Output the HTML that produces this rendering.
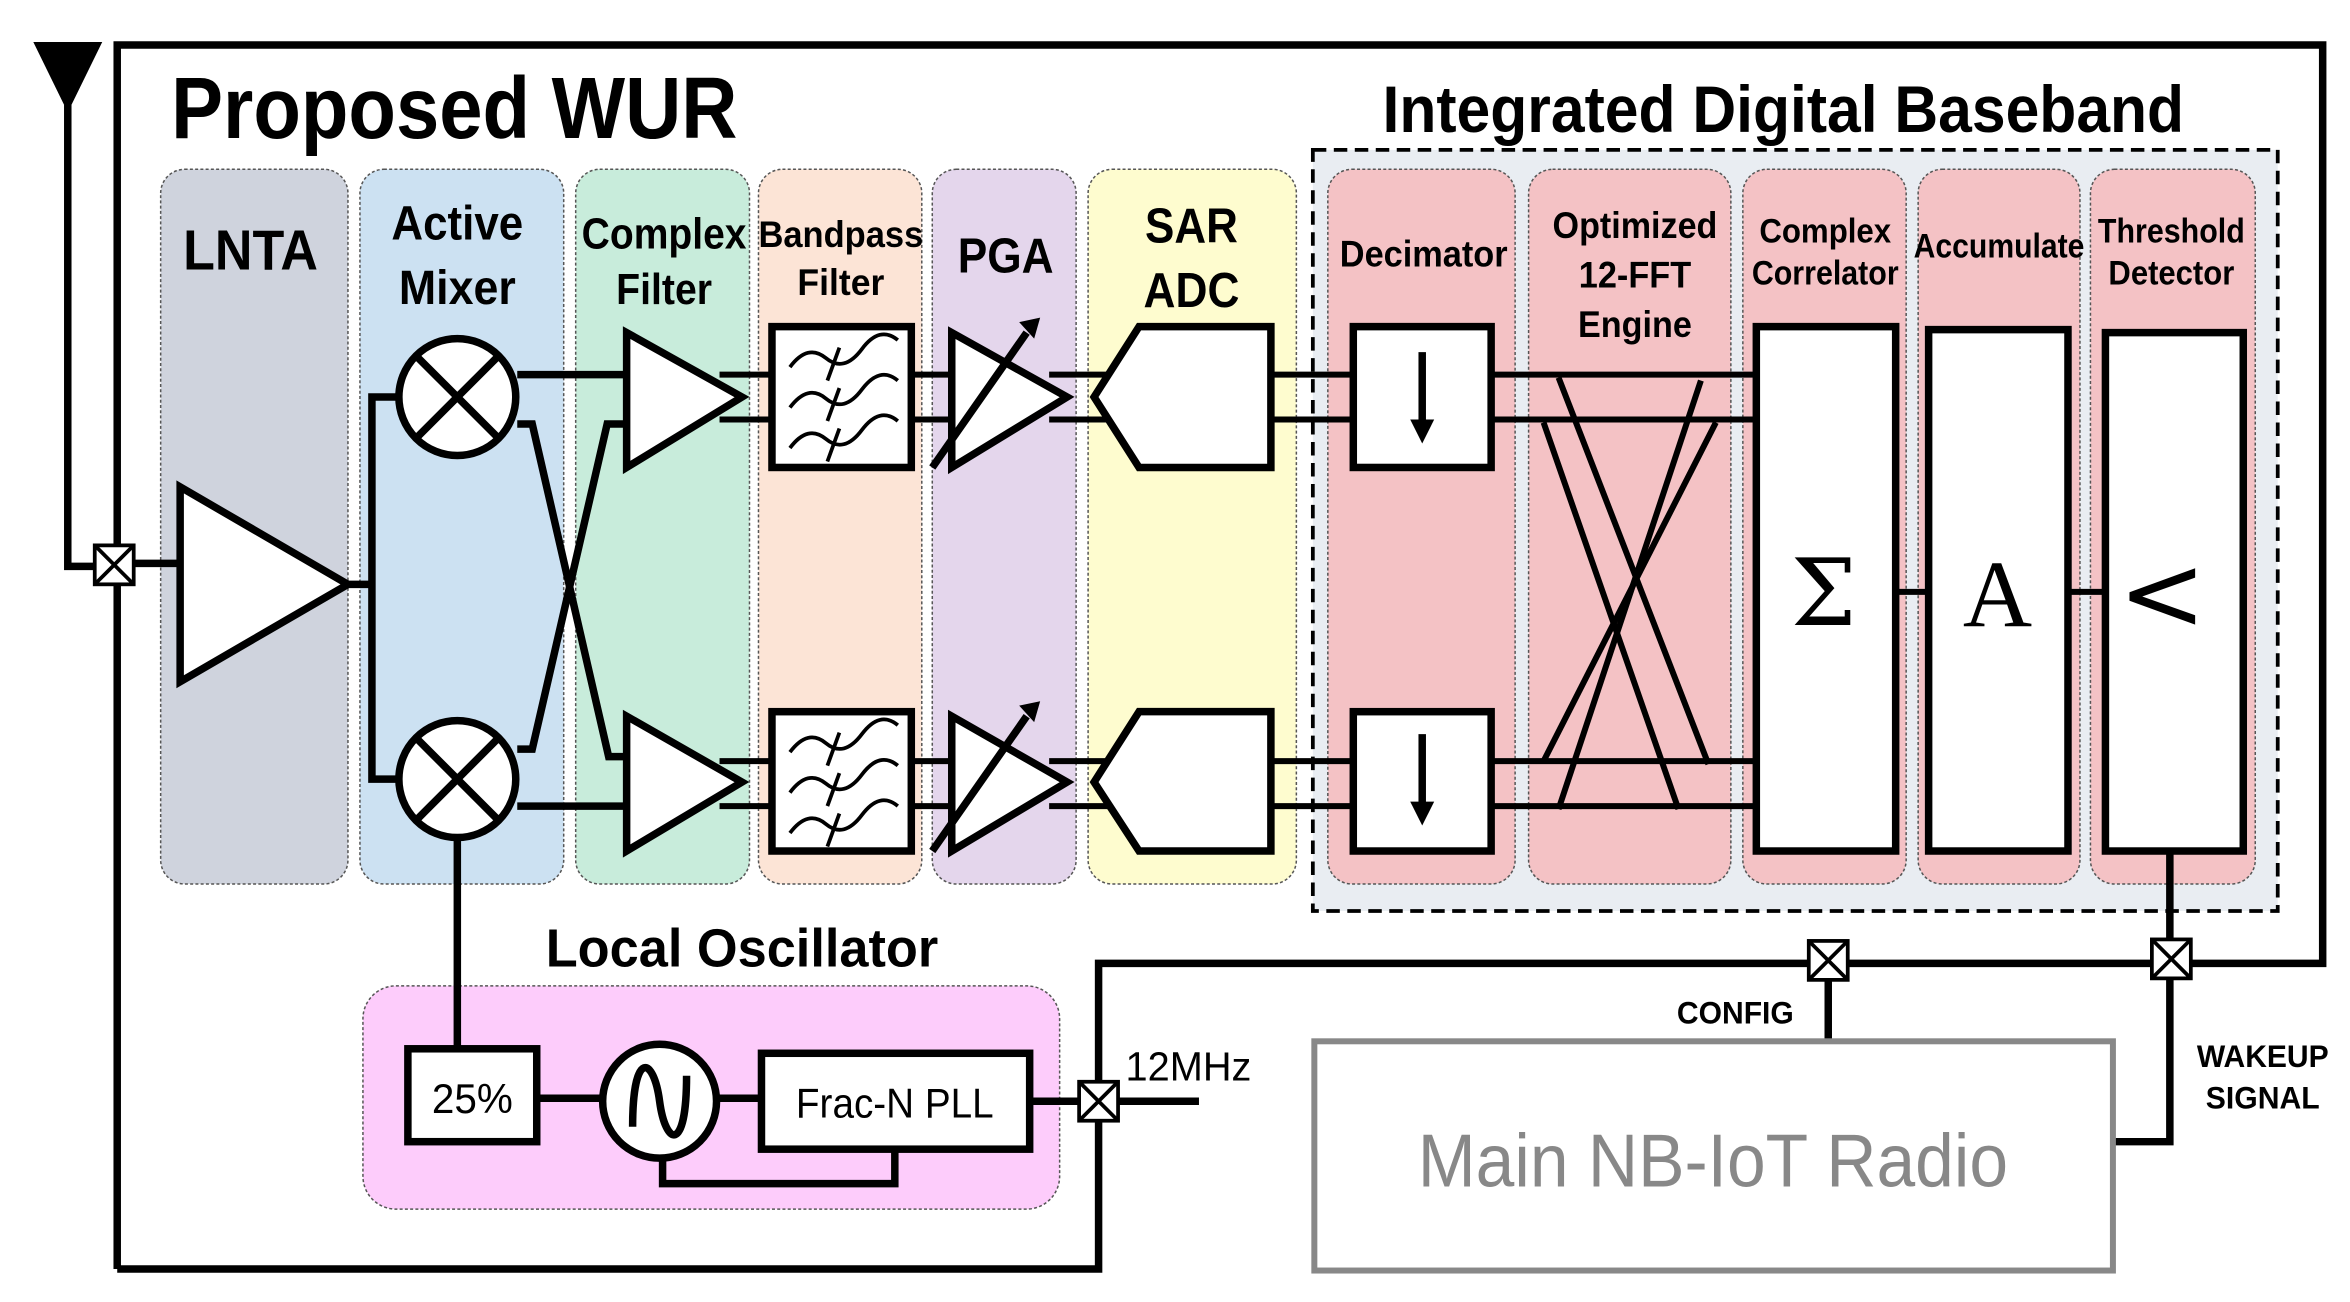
<!DOCTYPE html>
<html><head><meta charset="utf-8"><style>
html,body{margin:0;padding:0;background:#fff;}
svg{display:block;}
text{font-family:"Liberation Sans",sans-serif;font-weight:bold;}
</style></head><body>
<svg width="2350" height="1302" viewBox="0 0 1568 869" xmlns="http://www.w3.org/2000/svg">
<defs>
<g id="xb"><rect x="-13" y="-13" width="26" height="26"/><line x1="-13" y1="-13" x2="13" y2="13"/><line x1="13" y1="-13" x2="-13" y2="13"/></g>
<path id="sq" d="M527,245 q12,-16 24,-6 t24,-6 t24,-6 M560,232 l-8,22"/>
</defs>
<g stroke="#555" stroke-width="1" stroke-dasharray="2,1.5">
<rect x="107" y="113" width="125" height="477" rx="16" fill="#cfd3dd"/>
<rect x="240" y="113" width="136" height="477" rx="16" fill="#cce1f2"/>
<rect x="384" y="113" width="116" height="477" rx="16" fill="#c8ecdb"/>
<rect x="506" y="113" width="109" height="477" rx="16" fill="#fce4d6"/>
<rect x="622" y="113" width="96" height="477" rx="16" fill="#e4d6ec"/>
<rect x="726" y="113" width="139" height="477" rx="16" fill="#fefccf"/>
</g>
<rect x="876" y="100" width="644" height="508" fill="#e9edf2" stroke="#000" stroke-width="2.5" stroke-dasharray="9,5"/>
<g stroke="#555" stroke-width="1" stroke-dasharray="2,1.5" fill="#f4c2c5">
<rect x="886" y="113" width="125" height="477" rx="16"/>
<rect x="1020" y="113" width="135" height="477" rx="16"/>
<rect x="1163" y="113" width="109" height="477" rx="16"/>
<rect x="1280" y="113" width="108" height="477" rx="16"/>
<rect x="1395" y="113" width="110" height="477" rx="16"/>
<rect x="242" y="658" width="465" height="149" rx="22" fill="#fdccfb"/>
</g>
<g fill="none" stroke="#000" stroke-width="5">
<polyline points="78,847 78,30 1550,30 1550,643 733,643 733,847 78,847"/>
<polyline points="45,70 45,378 62,378"/>
</g>
<polygon points="22,28 68,28 45,75" fill="#000"/>
<g text-anchor="middle" fill="#000">
<text x="303" y="92" font-size="58" textLength="378" lengthAdjust="spacingAndGlyphs">Proposed WUR</text>
<text x="1190" y="88" font-size="44" textLength="535" lengthAdjust="spacingAndGlyphs">Integrated Digital Baseband</text>
<text x="167" y="180" font-size="38" textLength="90" lengthAdjust="spacingAndGlyphs">LNTA</text>
<text x="305" y="160" font-size="32" textLength="88" lengthAdjust="spacingAndGlyphs">Active</text>
<text x="305" y="203" font-size="32" textLength="78" lengthAdjust="spacingAndGlyphs">Mixer</text>
<text x="443" y="166" font-size="29" textLength="110" lengthAdjust="spacingAndGlyphs">Complex</text>
<text x="443" y="203" font-size="29" textLength="64" lengthAdjust="spacingAndGlyphs">Filter</text>
<text x="561" y="165" font-size="25" textLength="110" lengthAdjust="spacingAndGlyphs">Bandpass</text>
<text x="561" y="197" font-size="25" textLength="58" lengthAdjust="spacingAndGlyphs">Filter</text>
<text x="671" y="182" font-size="33" textLength="64" lengthAdjust="spacingAndGlyphs">PGA</text>
<text x="795" y="162" font-size="33" textLength="62" lengthAdjust="spacingAndGlyphs">SAR</text>
<text x="795" y="205" font-size="33" textLength="64" lengthAdjust="spacingAndGlyphs">ADC</text>
<text x="950" y="178" font-size="25" textLength="112" lengthAdjust="spacingAndGlyphs">Decimator</text>
<text x="1091" y="159" font-size="25" textLength="110" lengthAdjust="spacingAndGlyphs">Optimized</text>
<text x="1091" y="192" font-size="25" textLength="75" lengthAdjust="spacingAndGlyphs">12-FFT</text>
<text x="1091" y="225" font-size="25" textLength="76" lengthAdjust="spacingAndGlyphs">Engine</text>
<text x="1218" y="162" font-size="23" textLength="88" lengthAdjust="spacingAndGlyphs">Complex</text>
<text x="1218" y="190" font-size="23" textLength="98" lengthAdjust="spacingAndGlyphs">Correlator</text>
<text x="1334" y="172" font-size="23" textLength="114" lengthAdjust="spacingAndGlyphs">Accumulate</text>
<text x="1449" y="162" font-size="23" textLength="98" lengthAdjust="spacingAndGlyphs">Threshold</text>
<text x="1449" y="190" font-size="23" textLength="84" lengthAdjust="spacingAndGlyphs">Detector</text>
<text x="495" y="645" font-size="36" textLength="262" lengthAdjust="spacingAndGlyphs">Local Oscillator</text>
<text x="1158" y="683" font-size="21" textLength="78" lengthAdjust="spacingAndGlyphs">CONFIG</text>
<text x="1510" y="712" font-size="21" textLength="88" lengthAdjust="spacingAndGlyphs">WAKEUP</text>
<text x="1510" y="740" font-size="21" textLength="76" lengthAdjust="spacingAndGlyphs">SIGNAL</text>
</g>
<g fill="none" stroke="#000" stroke-width="5">
<line x1="90" y1="376" x2="120" y2="376"/>
<polyline points="232,390 248,390"/>
<polyline points="265,265 248,265 248,520 265,520"/>
<line x1="345" y1="250" x2="418" y2="250"/>
<polyline points="345,283 355,283 406,505 418,505"/>
<polyline points="345,500 355,500 405,283 418,283"/>
<line x1="345" y1="538" x2="418" y2="538"/>
<g stroke-width="4">
<line x1="480" y1="250" x2="515" y2="250"/><line x1="480" y1="280" x2="515" y2="280"/>
<line x1="480" y1="508" x2="515" y2="508"/><line x1="480" y1="538" x2="515" y2="538"/>
<line x1="608" y1="250" x2="640" y2="250"/><line x1="608" y1="280" x2="640" y2="280"/>
<line x1="608" y1="508" x2="640" y2="508"/><line x1="608" y1="538" x2="640" y2="538"/>
<line x1="700" y1="250" x2="745" y2="250"/><line x1="700" y1="280" x2="745" y2="280"/>
<line x1="700" y1="508" x2="745" y2="508"/><line x1="700" y1="538" x2="745" y2="538"/>
<line x1="848" y1="250" x2="903" y2="250"/><line x1="848" y1="280" x2="903" y2="280"/>
<line x1="848" y1="508" x2="903" y2="508"/><line x1="848" y1="538" x2="903" y2="538"/>
<line x1="995" y1="250" x2="1172" y2="250"/><line x1="995" y1="280" x2="1172" y2="280"/>
<line x1="995" y1="508" x2="1172" y2="508"/><line x1="995" y1="538" x2="1172" y2="538"/>
<line x1="1040" y1="252" x2="1140" y2="510"/><line x1="1030" y1="282" x2="1120" y2="540"/>
<line x1="1135" y1="254" x2="1040" y2="540"/><line x1="1145" y1="282" x2="1030" y2="508"/>
<line x1="1265" y1="395" x2="1287" y2="395"/><line x1="1380" y1="395" x2="1405" y2="395"/>
</g>
</g>
<g fill="#fff" stroke="#000" stroke-width="5">
<polygon points="120,325 120,455 232,390"/>
<circle cx="305" cy="265" r="39"/><circle cx="305" cy="520" r="39"/>
<polygon points="418,222 418,312 495,265"/><polygon points="418,478 418,568 495,522"/>
<rect x="515" y="218" width="93" height="94"/><rect x="515" y="475" width="93" height="93"/>
<polygon points="635,222 635,312 712,265"/><polygon points="635,478 635,568 712,522"/>
<polygon points="730,265 760,218 848,218 848,312 760,312"/><polygon points="730,522 760,475 848,475 848,568 760,568"/>
<rect x="903" y="218" width="92" height="94"/><rect x="903" y="475" width="92" height="93"/>
<rect x="1172" y="218" width="93" height="350"/>
<rect x="1287" y="220" width="93" height="348"/>
<rect x="1405" y="222" width="92" height="346"/>
</g>
<g stroke="#000" stroke-width="5" fill="none">
<line x1="277" y1="237" x2="333" y2="293"/><line x1="333" y1="237" x2="277" y2="293"/>
<line x1="277" y1="492" x2="333" y2="548"/><line x1="333" y1="492" x2="277" y2="548"/>
<line x1="622" y1="312" x2="685" y2="222"/><line x1="622" y1="568" x2="685" y2="478"/>
<line x1="949" y1="235" x2="949" y2="285"/><line x1="949" y1="490" x2="949" y2="540"/>
</g>
<g fill="#000">
<polygon points="680,215 694,212 690,226"/><polygon points="680,471 694,468 690,482"/>
<polygon points="941,280 957,280 949,296"/><polygon points="941,535 957,535 949,551"/>
</g>
<g stroke="#000" stroke-width="2.5" fill="none">
<use href="#sq"/><use href="#sq" y="27"/><use href="#sq" y="54"/>
<use href="#sq" y="257"/><use href="#sq" y="284"/><use href="#sq" y="311"/>
</g>
<g text-anchor="middle" fill="#000">
<text x="1217" y="417" font-size="62" style="font-family:'DejaVu Serif',serif;font-weight:normal">Σ</text>
<text x="1333" y="418" font-size="64" style="font-family:'Liberation Serif',serif;font-weight:normal">A</text>
<text x="1443" y="420" font-size="70" style="font-family:'DejaVu Sans',sans-serif;font-weight:normal">&lt;</text>
</g>
<g fill="none" stroke="#000" stroke-width="5">
<line x1="305" y1="559" x2="305" y2="700"/>
<line x1="358" y1="733" x2="402" y2="733"/>
<line x1="478" y1="733" x2="508" y2="733"/>
<polyline points="597,767 597,790 442,790 442,773"/>
<line x1="687" y1="735" x2="800" y2="735"/>
<polyline points="1448,568 1448,762 1410,762"/>
<line x1="1220" y1="643" x2="1220" y2="695"/>
</g>
<g fill="#fff" stroke="#000" stroke-width="5">
<rect x="272" y="700" width="86" height="62"/>
<circle cx="440" cy="735" r="38"/>
<rect x="508" y="703" width="179" height="64"/>
</g>
<path d="M422,752 C422,700 436,705 440,735 C444,765 458,770 458,718" fill="none" stroke="#000" stroke-width="5"/>
<g text-anchor="middle" fill="#000">
<text x="315" y="743" font-size="28" style="font-weight:normal" textLength="54" lengthAdjust="spacingAndGlyphs">25%</text>
<text x="597" y="746" font-size="28" style="font-weight:normal" textLength="132" lengthAdjust="spacingAndGlyphs">Frac-N PLL</text>
<text x="793" y="721" font-size="27" style="font-weight:normal" textLength="84" lengthAdjust="spacingAndGlyphs">12MHz</text>
</g>
<rect x="877" y="695" width="533" height="153" fill="#fff" stroke="#888" stroke-width="4"/>
<text x="1143" y="792" font-size="50" fill="#888" text-anchor="middle" style="font-weight:normal" textLength="394" lengthAdjust="spacingAndGlyphs">Main NB-IoT Radio</text>
<g fill="#fff" stroke="#000" stroke-width="2.5">
<use href="#xb" x="76" y="377"/><use href="#xb" x="733" y="735"/>
<use href="#xb" x="1220" y="641"/><use href="#xb" x="1449" y="640"/>
</g>
</svg>
</body></html>
